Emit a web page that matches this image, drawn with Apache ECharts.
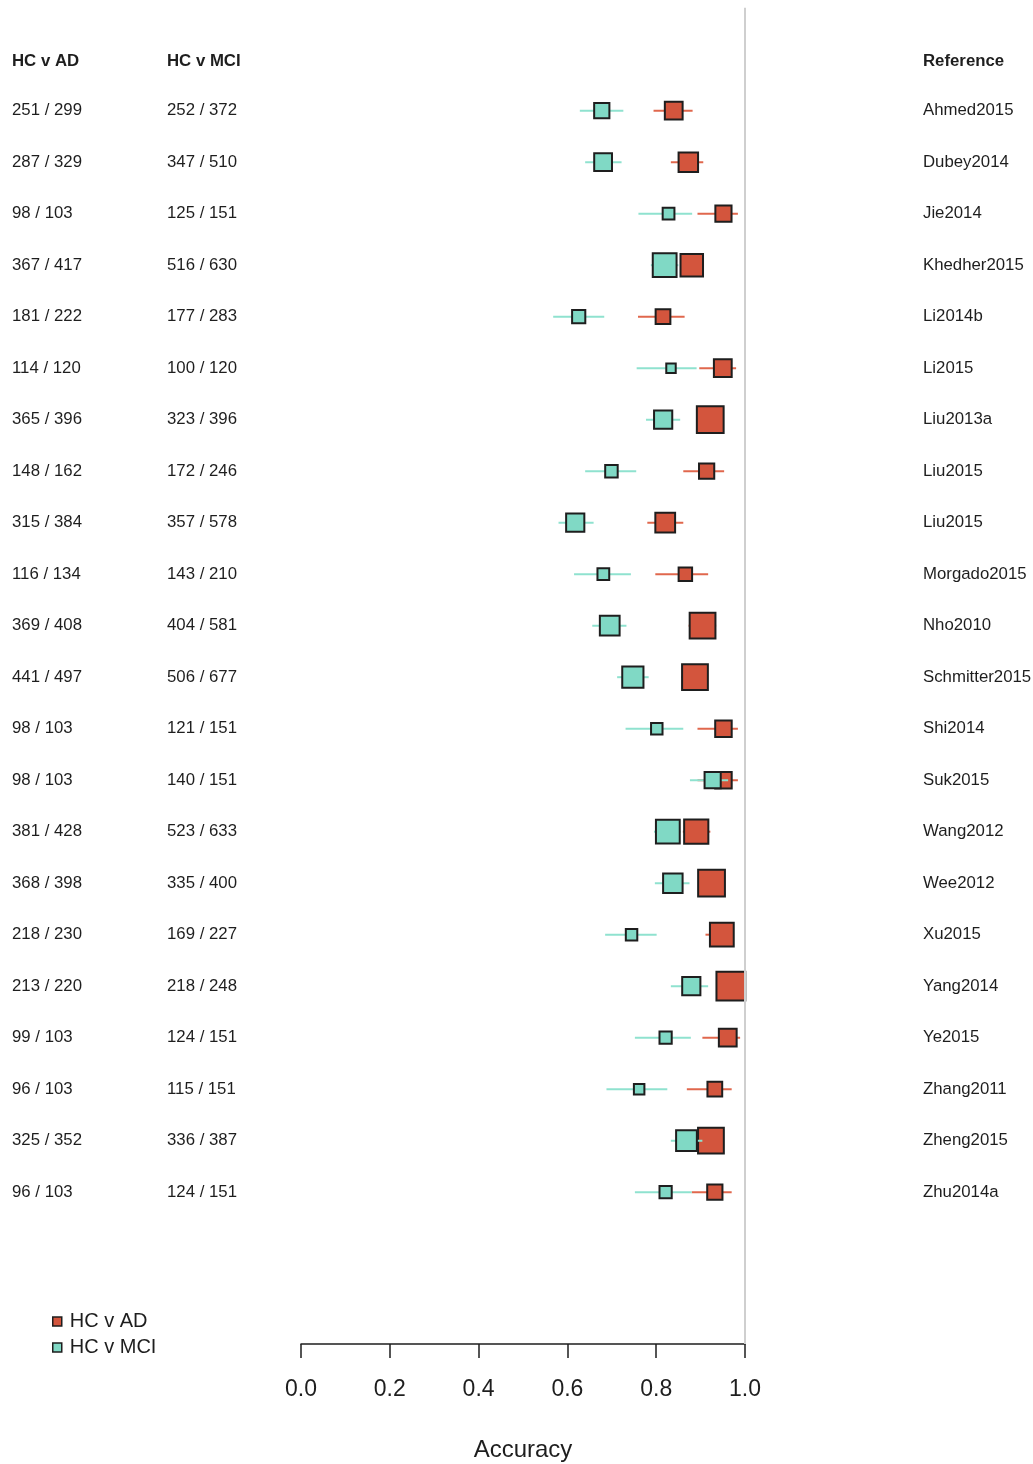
<!DOCTYPE html>
<html>
<head>
<meta charset="utf-8">
<script src="https://cdn.jsdelivr.net/npm/echarts@6/dist/echarts.min.js"></script>
<style>
  html, body { margin: 0; padding: 0; background: #ffffff; }
  #chart { width: 1033px; height: 1464px; }
</style>
</head>
<body>
<div id="chart"></div>
<script>
// Study references, one row each (top to bottom)
const studies = ['Ahmed2015', 'Dubey2014', 'Jie2014', 'Khedher2015', 'Li2014b', 'Li2015',
  'Liu2013a', 'Liu2015', 'Liu2015', 'Morgado2015', 'Nho2010', 'Schmitter2015', 'Shi2014',
  'Suk2015', 'Wang2012', 'Wee2012', 'Xu2015', 'Yang2014', 'Ye2015', 'Zhang2011',
  'Zheng2015', 'Zhu2014a'];

// Correctly classified / total subjects, HC vs AD
const adCorrect = [251, 287, 98, 367, 181, 114, 365, 148, 315, 116, 369, 441, 98, 98, 381, 368, 218, 213, 99, 96, 325, 96];
const adTotal   = [299, 329, 103, 417, 222, 120, 396, 162, 384, 134, 408, 497, 103, 103, 428, 398, 230, 220, 103, 103, 352, 103];

// Correctly classified / total subjects, HC vs MCI
const mciCorrect = [252, 347, 125, 516, 177, 100, 323, 172, 357, 143, 404, 506, 121, 140, 523, 335, 169, 218, 124, 115, 336, 124];
const mciTotal   = [372, 510, 151, 630, 283, 120, 396, 246, 578, 210, 581, 677, 151, 151, 633, 400, 227, 248, 151, 151, 387, 151];

// Confidence limits of the accuracy
const adLower  = [0.794, 0.833, 0.893, 0.858, 0.759, 0.897, 0.893, 0.861, 0.780, 0.798, 0.873, 0.857, 0.893, 0.893, 0.860, 0.895, 0.911, 0.935, 0.904, 0.869, 0.890, 0.880];
const adUpper  = [0.882, 0.906, 0.984, 0.903, 0.864, 0.980, 0.948, 0.953, 0.861, 0.917, 0.935, 0.914, 0.984, 0.984, 0.922, 0.952, 0.975, 0.992, 0.989, 0.970, 0.952, 0.970];
const mciLower = [0.628, 0.640, 0.760, 0.788, 0.568, 0.756, 0.777, 0.640, 0.580, 0.615, 0.656, 0.712, 0.731, 0.876, 0.795, 0.797, 0.685, 0.833, 0.752, 0.688, 0.833, 0.752];
const mciUpper = [0.726, 0.722, 0.881, 0.850, 0.683, 0.891, 0.854, 0.755, 0.659, 0.743, 0.733, 0.783, 0.861, 0.962, 0.855, 0.875, 0.801, 0.917, 0.878, 0.825, 0.904, 0.880];

// Relative study weights (box area)
const adWeight  = [93, 110, 78, 144, 66, 93, 200, 70, 113, 56, 186, 186, 81, 81, 165, 200, 160, 230, 93, 66, 186, 70];
const mciWeight = [70, 93, 44, 160, 54, 30, 97, 49, 97, 44, 113, 129, 42, 78, 160, 110, 42, 97, 47, 36, 124, 47];

// Accuracy axis ticks
const xTicks = [0.0, 0.2, 0.4, 0.6, 0.8, 1.0];

const groupNames = ['HC v AD', 'HC v MCI'];
const columnHeaders = ['HC v AD', 'HC v MCI', 'Reference'];

const FONT = '"Liberation Sans", Arial, sans-serif';
const RED = '#d3553d';
const RED_LINE = '#e0674d';
const TEAL = '#80d9c5';
const TEAL_LINE = '#8fe2cf';
const INK = '#1e1e1e';

function rowData(correct, total, lower, upper, weight) {
  return studies.map((s, i) => [correct[i] / total[i], i, lower[i], upper[i], weight[i]]);
}

function forestItem(fill, lineColor) {
  return function (params, api) {
    const row = api.value(1);
    const c = api.coord([api.value(0), row]);
    const lo = api.coord([api.value(2), row]);
    const hi = api.coord([api.value(3), row]);
    const side = 2 * Math.sqrt(api.value(4)) - 1.5;
    return {
      type: 'group',
      children: [
        { type: 'line', shape: { x1: lo[0], y1: c[1], x2: hi[0], y2: c[1] },
          style: { stroke: lineColor, lineWidth: 2 } },
        { type: 'rect', shape: { x: c[0] - side / 2, y: c[1] - side / 2, width: side, height: side },
          style: { fill: fill, stroke: INK, lineWidth: 2 } }
      ]
    };
  };
}

// Table rows: column headers just above the first study, then one row per study
const HEADER_ROW = -0.95;
const tableRows = [[HEADER_ROW]].concat(studies.map((s, i) => [i]));
const columnX = [12, 167, 923];

function tableItem(params, api) {
  const row = api.value(0);
  const y = api.coord([0, row])[1];
  let texts;
  let weight = 'normal';
  if (row < 0) {
    texts = columnHeaders;
    weight = 'bold';
  } else {
    texts = [adCorrect[row] + ' / ' + adTotal[row], mciCorrect[row] + ' / ' + mciTotal[row], studies[row]];
  }
  return {
    type: 'group',
    children: texts.map((t, k) => ({
      type: 'text',
      x: columnX[k],
      y: y,
      style: { text: t, fill: INK, fontSize: 16.8, fontWeight: weight, fontFamily: FONT,
               align: 'left', verticalAlign: 'middle' }
    }))
  };
}

const chart = echarts.init(document.getElementById('chart'), null, { renderer: 'canvas' });

chart.setOption({
  backgroundColor: '#ffffff',
  animation: false,
  grid: { left: 301, right: 288, top: 7.7, bottom: 119.9, outerBoundsMode: 'none' },
  xAxis: {
    type: 'value', min: xTicks[0], max: xTicks[xTicks.length - 1], interval: 0.2,
    axisLine: { show: true, onZero: false, lineStyle: { color: INK, width: 1.5 } },
    axisTick: { show: true, length: 14, lineStyle: { color: INK, width: 1.5 } },
    axisLabel: { margin: 34, fontSize: 23, fontFamily: FONT, color: INK,
                 formatter: v => v.toFixed(1) },
    splitLine: { show: false },
    name: 'Accuracy', nameLocation: 'middle', nameGap: 94,
    nameTextStyle: { fontSize: 24, fontFamily: FONT, color: INK }
  },
  yAxis: { type: 'value', inverse: true, min: -2, max: 23.95, show: false },
  legend: {
    orient: 'vertical', left: 47, top: 1306, icon: 'rect',
    itemWidth: 9, itemHeight: 9, itemGap: 5,
    textStyle: { fontSize: 20, fontFamily: FONT, color: INK, lineHeight: 21, padding: [0, 0, 0, 3] },
    data: [
      { name: groupNames[0], itemStyle: { color: RED, borderColor: INK, borderWidth: 1.5 } },
      { name: groupNames[1], itemStyle: { color: TEAL, borderColor: INK, borderWidth: 1.5 } }
    ]
  },
  series: [
    {
      name: 'table', type: 'custom', renderItem: tableItem, silent: true, z: 1,
      encode: { y: 0 },
      data: tableRows,
      // reference line at perfect accuracy, kept beneath the study boxes
      markLine: {
        silent: true, symbol: ['none', 'none'], label: { show: false },
        lineStyle: { color: '#cfcfcf', width: 2, type: 'solid' },
        data: [{ xAxis: 1 }]
      }
    },
    {
      name: groupNames[0], type: 'custom', renderItem: forestItem(RED, RED_LINE), z: 3,
      itemStyle: { color: RED },
      encode: { x: [0, 2, 3], y: 1 },
      data: rowData(adCorrect, adTotal, adLower, adUpper, adWeight)
    },
    {
      name: groupNames[1], type: 'custom', renderItem: forestItem(TEAL, TEAL_LINE), z: 4,
      itemStyle: { color: TEAL },
      encode: { x: [0, 2, 3], y: 1 },
      data: rowData(mciCorrect, mciTotal, mciLower, mciUpper, mciWeight)
    }
  ]
});
</script>
</body>
</html>
